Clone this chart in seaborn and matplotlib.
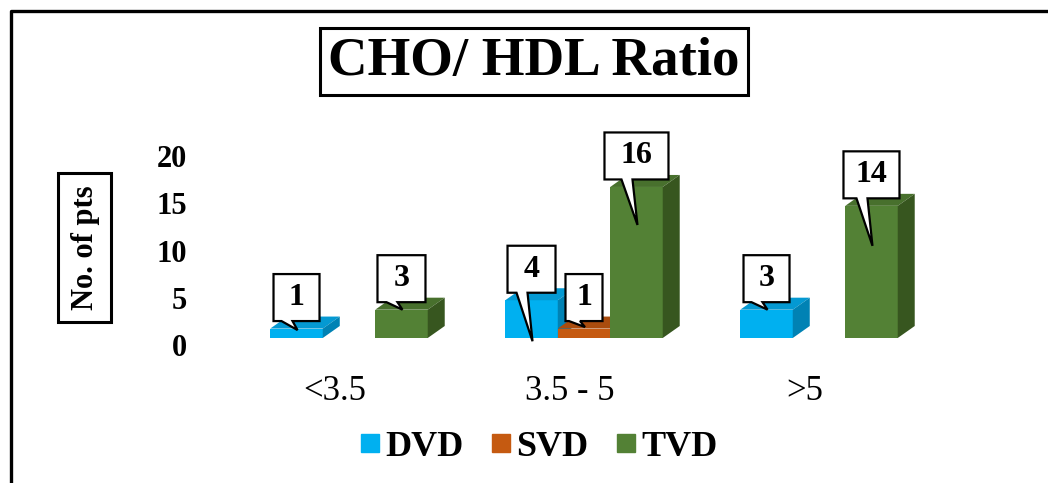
import numpy as np
import pandas as pd
import seaborn as sns
import matplotlib.pyplot as plt
import matplotlib.transforms as mtransforms
import matplotlib.colors as mcolors
from matplotlib.patches import Polygon, Rectangle
from matplotlib.lines import Line2D

# ---- data -------------------------------------------------------------
categories = ["<3.5", "3.5 - 5", ">5"]
groups = ["DVD", "SVD", "TVD"]
dvd = [1, 4, 3]
svd = [np.nan, 1, np.nan]
tvd = [3, 16, 14]
y_ticks = [0, 5, 10, 15, 20]

# ---- style ------------------------------------------------------------
front_colors = {"DVD": "#00B0F0", "SVD": "#C55A11", "TVD": "#538135"}
top_colors = {"DVD": "#0499D2", "SVD": "#A94C0E", "TVD": "#48702D"}
side_colors = {"DVD": "#0082B4", "SVD": "#8E3F0B", "TVD": "#37561F"}

# callout box widths and pointer reach (pixels) per series / category
callout_w = {"DVD": [46, 48, 46], "SVD": [None, 37, None], "TVD": [48, 64, 56]}
callout_reach = {"DVD": [1.5, 41, 0], "SVD": [None, -1.5, None], "TVD": [0, 38, 40]}

sns.set_theme(style="white")
plt.rcParams["font.family"] = ["Liberation Serif", "DejaVu Serif"]
plt.rcParams["text.color"] = "black"
plt.rcParams["axes.labelcolor"] = "black"
plt.rcParams["xtick.color"] = "black"
plt.rcParams["ytick.color"] = "black"

rows = []
for name, vals in zip(groups, [dvd, svd, tvd]):
    for cat, v in zip(categories, vals):
        rows.append((cat, name, v))
df = pd.DataFrame(rows, columns=["range", "group", "pts"]).dropna()

DPI = 100
W, H = 1048, 483
fig = plt.figure(figsize=(W / DPI, H / DPI), dpi=DPI)
fig.patch.set_facecolor("white")

# plot area in pixels
x_left, x_right = 231.5, 936.5
y_base = 338.0          # pixel row of value 0 (from top)
ppu = 9.44              # pixels per unit on the value axis
y_max = 20
ax = fig.add_axes([x_left / W, 1 - y_base / H,
                   (x_right - x_left) / W, y_max * ppu / H])

sns.barplot(data=df, x="range", y="pts", hue="group", order=categories,
            hue_order=groups, palette=front_colors, saturation=1,
            width=0.67, linewidth=0, errorbar=None, legend=False, ax=ax)
ax.set_xlim(-0.5, 2.5)
ax.set_ylim(0, y_max)
for s in ax.spines.values():
    s.set_visible(False)
ax.set_xlabel("")
ax.set_ylabel("")

# ---- 3-D faces --------------------------------------------------------
dx = 17 * 3.0 / (x_right - x_left)
dy = 12 / ppu
lookup = {mcolors.to_hex(front_colors[g]): g for g in groups}

bars = []
for bar in ax.patches:
    h = bar.get_height()
    if not np.isfinite(h) or h <= 0:
        continue
    g = lookup[mcolors.to_hex(bar.get_facecolor())]
    bars.append((bar.get_x(), bar, g))
bars.sort(key=lambda t: t[0])

for rank, (x0, bar, g) in enumerate(bars):
    z = 2 + 0.01 * rank
    bar.set_zorder(z)
    x1 = x0 + bar.get_width()
    h = bar.get_height()
    top = Polygon([(x0, h), (x1, h), (x1 + dx, h + dy), (x0 + dx, h + dy)],
                  closed=True, fc=top_colors[g], ec="none", zorder=z, clip_on=False)
    side = Polygon([(x1, 0), (x1 + dx, dy), (x1 + dx, h + dy), (x1, h)],
                   closed=True, fc=side_colors[g], ec="none", zorder=z, clip_on=False)
    ax.add_patch(top)
    ax.add_patch(side)

# ---- callouts ---------------------------------------------------------
box_b, box_h = 7.5, 47
for x0, bar, g in bars:
    cx = x0 + bar.get_width() / 2
    h = bar.get_height()
    cat_idx = int(round(cx))
    w = callout_w[g][cat_idx]
    reach = callout_reach[g][cat_idx]
    hw = w / 2
    verts = [(-hw, box_b + box_h), (hw, box_b + box_h), (hw, box_b),
             (-4, box_b), (1, -reach), (-15, box_b), (-hw, box_b)]
    trans = (mtransforms.Affine2D().scale(fig.dpi / 100)
             + mtransforms.ScaledTranslation(cx, h, ax.transData))
    ax.add_patch(Polygon(verts, closed=True, fc="white", ec="black", lw=1.6,
                         transform=trans, zorder=10, clip_on=False,
                         joinstyle="miter"))
    ax.annotate(f"{h:g}", xy=(cx, h), xytext=(0, box_b + box_h / 2),
                textcoords="offset pixels", ha="center", va="center",
                fontsize=23, fontweight="bold", zorder=11, annotation_clip=False)

# ---- axes text --------------------------------------------------------
ax.set_yticks(y_ticks)
ax.set_yticklabels([str(t) for t in y_ticks], fontsize=22, fontweight="bold")
ax.set_xticks(range(len(categories)))
ax.set_xticklabels(categories, fontsize=25)
ax.tick_params(axis="y", length=0, pad=32)
ax.tick_params(axis="x", length=0, pad=27)
for lbl in ax.get_yticklabels():
    lbl.set_transform(lbl.get_transform()
                      + mtransforms.ScaledTranslation(0, -7 / 100, fig.dpi_scale_trans))
for lbl in ax.get_xticklabels():
    lbl.set_transform(lbl.get_transform()
                      + mtransforms.ScaledTranslation(-14 / 100, 0, fig.dpi_scale_trans))

def px_rect(x, y, w, h, lw=2.2):
    return Rectangle((x / W, 1 - (y + h) / H), w / W, h / H,
                     transform=fig.transFigure, fill=False, ec="black", lw=lw)

fig.text(534 / W, 1 - 62 / H, "CHO/ HDL Ratio", fontsize=39.5, fontweight="bold",
         ha="center", va="center")
fig.add_artist(px_rect(320, 28, 428, 67))

fig.text(85 / W, 1 - 248 / H, "No. of pts", rotation=90, fontsize=22,
         fontweight="bold", ha="center", va="center")
fig.add_artist(px_rect(58, 173, 53, 149))

# outer frame (left and top edges)
fig.add_artist(Line2D([10.5 / W, 10.5 / W, 1.0], [0, 1 - 10.5 / H, 1 - 10.5 / H],
                      transform=fig.transFigure, color="black", lw=2.4))

# ---- legend -----------------------------------------------------------
handles = [Line2D([], [], marker="s", linestyle="", markersize=12.5,
                  markerfacecolor=front_colors[g], markeredgecolor=front_colors[g])
           for g in groups]
fig.legend(handles, groups, loc="center", bbox_to_anchor=(538 / W, 1 - 447 / H),
           ncol=3, frameon=False, handlelength=0.65, handletextpad=0.1,
           columnspacing=0.72, prop={"size": 26, "weight": "bold"})

fig.savefig("out.png", dpi=DPI, facecolor="white")
